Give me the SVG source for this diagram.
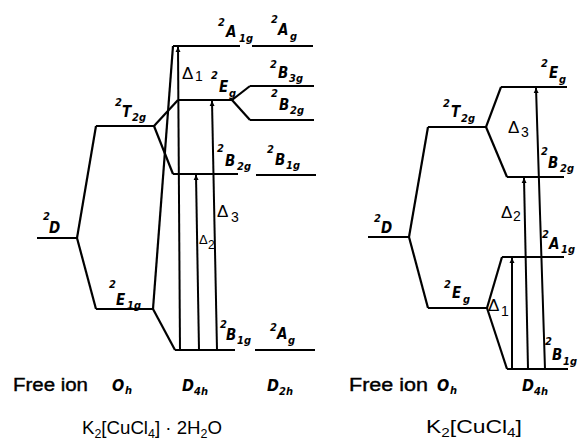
<svg xmlns="http://www.w3.org/2000/svg" width="579" height="441" viewBox="0 0 579 441">
<defs>
<style>
.ln{stroke:#000;stroke-width:2.2;fill:none;stroke-linejoin:miter}
.ar{stroke:#000;stroke-width:2;fill:none;marker-end:url(#ah)}
.lb{font-family:"Liberation Sans Narrow","DejaVu Sans Condensed","Liberation Sans",sans-serif;font-stretch:condensed;font-style:italic;font-weight:bold;font-size:15px;fill:#000}
.sp{font-size:11px}
.sb{font-size:11px}
.dl{font-family:"Liberation Sans","DejaVu Sans",sans-serif;font-size:17px;fill:#000}
.ds{font-size:14px}
.ax{font-family:"Liberation Sans","DejaVu Sans",sans-serif;font-size:18px;fill:#000;stroke:#000;stroke-width:0.4}
.fm{font-family:"Liberation Sans","DejaVu Sans",sans-serif;font-size:18px;fill:#000}
.fs{font-size:12px}
</style>
<marker id="ah" viewBox="0 0 10 10" refX="10" refY="5" markerWidth="5" markerHeight="8" markerUnits="userSpaceOnUse" orient="auto">
<path d="M0,0 L10,5 L0,10 z" fill="#000"/>
</marker>
</defs>
<rect width="579" height="441" fill="#fff"/>

<!-- Left diagram: K2[CuCl4]·2H2O -->
<g id="L_D"><path class="ln" d="M37,238 H77"/><text class="lb"><tspan class="sp" x="43" y="220">2</tspan><tspan x="49" y="233">D</tspan></text></g>
<g id="L_T2g"><path class="ln" d="M96,126 H154"/><text class="lb"><tspan class="sp" x="115" y="106">2</tspan><tspan x="122" y="117">T</tspan><tspan class="sb" x="132" y="121">2g</tspan></text></g>
<g id="L_E1g"><path class="ln" d="M96,309 H153"/><text class="lb"><tspan class="sp" x="109" y="288">2</tspan><tspan x="116" y="305">E</tspan><tspan class="sb" x="127" y="309">1g</tspan></text></g>
<g id="L_Eg"><path class="ln" d="M178,100 H232"/><text class="lb"><tspan class="sp" x="211" y="79">2</tspan><tspan x="219" y="92">E</tspan><tspan class="sb" x="229" y="97">g</tspan></text></g>
<g id="L_A1g"><path class="ln" d="M173,46 H240"/><text class="lb"><tspan class="sp" x="218" y="26">2</tspan><tspan x="226" y="37">A</tspan><tspan class="sb" x="239" y="42">1g</tspan></text></g>
<g id="L_B2g"><path class="ln" d="M173,174 H238"/><text class="lb"><tspan class="sp" x="217" y="152">2</tspan><tspan x="225" y="166">B</tspan><tspan class="sb" x="237" y="170">2g</tspan></text></g>
<g id="L_B1g"><path class="ln" d="M175,350 H235"/><text class="lb"><tspan class="sp" x="220" y="328">2</tspan><tspan x="226" y="340">B</tspan><tspan class="sb" x="237" y="344">1g</tspan></text></g>
<g id="L_Ag_top"><path class="ln" d="M252,46 H313"/><text class="lb"><tspan class="sp" x="271" y="23">2</tspan><tspan x="278" y="35">A</tspan><tspan class="sb" x="290" y="40">g</tspan></text></g>
<g id="L_B3g"><path class="ln" d="M250,86 H314"/><text class="lb"><tspan class="sp" x="270" y="68">2</tspan><tspan x="278" y="78">B</tspan><tspan class="sb" x="289" y="82">3g</tspan></text></g>
<g id="L_B2g_D2h"><path class="ln" d="M250,120 H314"/><text class="lb"><tspan class="sp" x="271" y="97">2</tspan><tspan x="279" y="110">B</tspan><tspan class="sb" x="290" y="114">2g</tspan></text></g>
<g id="L_B1g_D2h"><path class="ln" d="M256,175 H316"/><text class="lb"><tspan class="sp" x="267" y="153">2</tspan><tspan x="275" y="165">B</tspan><tspan class="sb" x="286" y="169">1g</tspan></text></g>
<g id="L_Ag_bot"><path class="ln" d="M255,350 H315"/><text class="lb"><tspan class="sp" x="270" y="331">2</tspan><tspan x="277" y="339">A</tspan><tspan class="sb" x="288" y="344">g</tspan></text></g>

<!-- Right diagram: K2[CuCl4] -->
<g id="R_D"><path class="ln" d="M368,237 H409"/><text class="lb"><tspan class="sp" x="374" y="222">2</tspan><tspan x="381" y="233">D</tspan></text></g>
<g id="R_T2g"><path class="ln" d="M428,127 H486"/><text class="lb"><tspan class="sp" x="443" y="107">2</tspan><tspan x="451" y="117">T</tspan><tspan class="sb" x="461" y="122">2g</tspan></text></g>
<g id="R_Eg_oh"><path class="ln" d="M428,308 H487"/><text class="lb"><tspan class="sp" x="444" y="288">2</tspan><tspan x="452" y="298">E</tspan><tspan class="sb" x="463" y="303">g</tspan></text></g>
<g id="R_Eg"><path class="ln" d="M501,87 H567"/><text class="lb"><tspan class="sp" x="541" y="67">2</tspan><tspan x="549" y="78">E</tspan><tspan class="sb" x="559" y="83">g</tspan></text></g>
<g id="R_B2g"><path class="ln" d="M507,177 H564"/><text class="lb"><tspan class="sp" x="541" y="155">2</tspan><tspan x="548" y="168">B</tspan><tspan class="sb" x="560" y="172">2g</tspan></text></g>
<g id="R_A1g"><path class="ln" d="M502,257 H564"/><text class="lb"><tspan class="sp" x="542" y="238">2</tspan><tspan x="549" y="249">A</tspan><tspan class="sb" x="561" y="253">1g</tspan></text></g>
<g id="R_B1g"><path class="ln" d="M507,369 H568"/><text class="lb"><tspan class="sp" x="545" y="345">2</tspan><tspan x="552" y="360">B</tspan><tspan class="sb" x="563" y="365">1g</tspan></text></g>

<g id="connectors">
<path class="ln" d="M77,238 L96,126"/>
<path class="ln" d="M77,238 L96,309"/>
<path class="ln" d="M154,126 L178,100"/>
<path class="ln" d="M154,126 L173,174"/>
<path class="ln" d="M153,309 L173,46"/>
<path class="ln" d="M153,309 L175,350"/>
<path class="ln" d="M232,100 L250,86"/>
<path class="ln" d="M232,100 L250,120"/>
<path class="ar" d="M180,350 L178,47"/>
<path class="ar" d="M199,350 L196,175"/>
<path class="ar" d="M217,350 L212,101"/>
<path class="ln" d="M409,237 L428,127"/>
<path class="ln" d="M409,237 L428,308"/>
<path class="ln" d="M486,127 L501,87"/>
<path class="ln" d="M486,127 L507,177"/>
<path class="ln" d="M487,308 L502,257"/>
<path class="ln" d="M487,308 L507,369"/>
<path class="ar" d="M512,369 L512,258"/>
<path class="ar" d="M528,369 L524,178"/>
<path class="ar" d="M545,369 L536,88"/>
</g>

<g id="deltas">
<text class="dl" x="182" y="79">Δ<tspan class="ds" x="195" y="81">1</tspan></text>
<text class="dl" x="217" y="217">Δ<tspan class="ds" x="231" y="222">3</tspan></text>
<text class="dl" x="199" y="244" style="font-size:13px">Δ<tspan class="ds" x="208" y="249" style="font-size:12px">2</tspan></text>
<text class="dl" x="508" y="133">Δ<tspan class="ds" x="521" y="137">3</tspan></text>
<text class="dl" x="501" y="218">Δ<tspan class="ds" x="513" y="221">2</tspan></text>
<text class="dl" x="488" y="311">Δ<tspan class="ds" x="501" y="316">1</tspan></text>
</g>

<g id="axis-left">
<text class="ax" x="13" y="391" textLength="75" lengthAdjust="spacingAndGlyphs">Free ion</text>
<text class="lb" style="font-size:16px"><tspan x="112" y="391">O</tspan><tspan class="sb" x="125" y="394">h</tspan></text>
<text class="lb" style="font-size:16px"><tspan x="182" y="391">D</tspan><tspan class="sb" x="194" y="395">4h</tspan></text>
<text class="lb" style="font-size:16px"><tspan x="267" y="391">D</tspan><tspan class="sb" x="279" y="395">2h</tspan></text>
<text class="fm" x="82" y="434" textLength="140" lengthAdjust="spacingAndGlyphs">K<tspan class="fs" dy="4">2</tspan><tspan dy="-4">[CuCl</tspan><tspan class="fs" dy="4">4</tspan><tspan dy="-4">] · 2H</tspan><tspan class="fs" dy="4">2</tspan><tspan dy="-4">O</tspan></text>
</g>

<g id="axis-right">
<text class="ax" x="349" y="391" textLength="79" lengthAdjust="spacingAndGlyphs">Free ion</text>
<text class="lb" style="font-size:16px"><tspan x="437" y="391">O</tspan><tspan class="sb" x="450" y="394">h</tspan></text>
<text class="lb" style="font-size:16px"><tspan x="522" y="391">D</tspan><tspan class="sb" x="534" y="395">4h</tspan></text>
<text class="fm" x="426" y="433" textLength="96" lengthAdjust="spacingAndGlyphs">K<tspan class="fs" dy="4">2</tspan><tspan dy="-4">[CuCl</tspan><tspan class="fs" dy="4">4</tspan><tspan dy="-4">]</tspan></text>
</g>
</svg>
